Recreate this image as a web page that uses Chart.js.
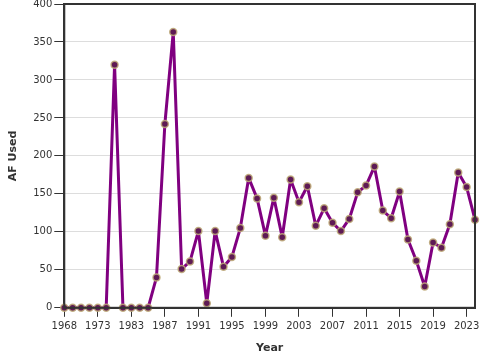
<!DOCTYPE html>
<html><head><meta charset="utf-8">
<script src="https://cdn.jsdelivr.net/npm/chart.js@4/dist/chart.umd.min.js"></script>
<style>html,body{margin:0;padding:0;overflow:hidden;background:#fff}#wrap{width:500px;height:364px;margin-top:-4px}</style>
</head><body><div id="wrap"><canvas id="c"></canvas></div>
<script>
const years = ['1968','1969','1970','1971','1973','1975','1977','1980','1983','1984','1985','1986','1987','1988','1989','1990','1991','1992','1993','1994','1995','1996','1997','1998','1999','2000','2001','2002','2003','2004','2005','2006','2007','2008','2009','2010','2011','2012','2013','2014','2015','2016','2017','2018','2019','2020','2021','2022','2023','2024'];
const afUsed = [0,0,0,0,0,0,320,0,0,0,0,40,242,363,51,61,101,6,101,54,67,105,171,144,95,145,93,169,139,160,108,131,112,101,117,152,161,186,128,118,153,90,62,28,86,79,110,178,159,116];
const yTicks = [0,50,100,150,200,250,300,350,400];

const boxPlugin = {
  id:'box',
  afterDraw(chart){
    const {ctx, chartArea:a} = chart;
    ctx.save();
    ctx.strokeStyle='#333';
    ctx.lineWidth=2;
    ctx.strokeRect(a.left,a.top,a.right-a.left,a.bottom-a.top);
    ctx.restore();
  }
};

new Chart(document.getElementById('c'),{
  type:'line',
  data:{labels:years,datasets:[{
    data:afUsed,
    borderColor:'#800080',
    borderWidth:3,
    borderJoinStyle:'round',
    borderCapStyle:'round',
    pointRadius:3.5,
    pointBackgroundColor:'#5e1a55',
    pointBorderColor:'rgba(190,170,120,0.85)',
    pointBorderWidth:1.5,
    tension:0,
    clip:false
  }]},
  options:{
    responsive:true,maintainAspectRatio:false,animation:false,
    layout:{padding:{left:3,right:25,top:0,bottom:1}},
    plugins:{legend:{display:false},tooltip:{enabled:false}},
    scales:{
      x:{
        offset:false,
        grid:{display:true,drawOnChartArea:false,drawTicks:true,tickLength:9,color:'#333'},
        border:{display:true,color:'#333',width:2},
        ticks:{autoSkip:false,maxRotation:0,minRotation:0,color:'#333',font:{family:'DejaVu Sans',size:10},padding:4,
          callback:function(v,i){return i%4===0?years[i]:null;}},
        title:{display:true,text:'Year',color:'#333',font:{family:'DejaVu Sans',size:11,weight:'bold'},padding:{top:5}}
      },
      y:{
        min:0,max:400,
        afterBuildTicks:function(ax){ax.ticks=yTicks.map(v=>({value:v}));},
        grid:{color:'#ddd',lineWidth:1,tickLength:10,tickColor:'#333'},
        border:{display:true,color:'#333',width:2},
        ticks:{color:'#333',font:{family:'DejaVu Sans',size:10},padding:2},
        title:{display:true,text:'AF Used',color:'#333',font:{family:'DejaVu Sans',size:11,weight:'bold'},padding:{bottom:11}}
      }
    }
  },
  plugins:[boxPlugin]
});
</script></body></html>
